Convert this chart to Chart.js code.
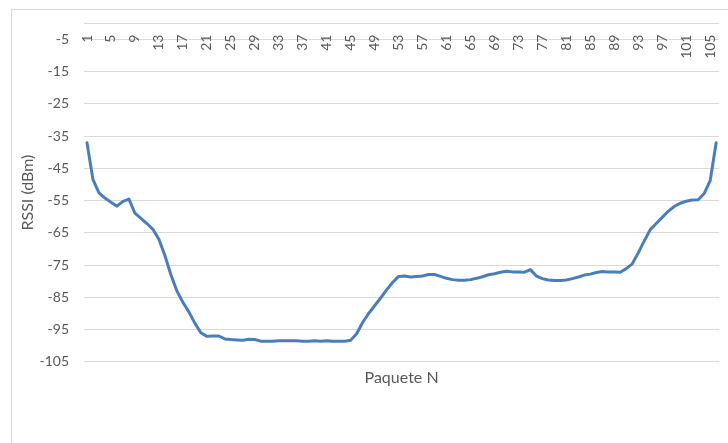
<!DOCTYPE html>
<html>
<head>
<meta charset="utf-8">
<script src="https://cdn.jsdelivr.net/npm/chart.js@4/dist/chart.umd.min.js"></script>
<style>
  html, body { margin: 0; padding: 0; background: #ffffff; }
  #wrap { position: relative; width: 728px; height: 443px; overflow: hidden; }
  #frame { position: absolute; left: 11px; top: 9px; width: 760px; height: 500px; border: 1px solid #d9d9d9; box-sizing: border-box; }
  canvas { position: absolute; left: 0; top: 0; }
</style>
</head>
<body>
<div id="wrap">
  <div id="frame"></div>
  <canvas id="chart" width="728" height="443"></canvas>
</div>
<script>
// Packet numbers 1..106
const packets = [
  '1','2','3','4','5','6','7','8','9','10','11','12','13','14','15','16','17','18','19','20',
  '21','22','23','24','25','26','27','28','29','30','31','32','33','34','35','36','37','38','39','40',
  '41','42','43','44','45','46','47','48','49','50','51','52','53','54','55','56','57','58','59','60',
  '61','62','63','64','65','66','67','68','69','70','71','72','73','74','75','76','77','78','79','80',
  '81','82','83','84','85','86','87','88','89','90','91','92','93','94','95','96','97','98','99','100',
  '101','102','103','104','105','106'
];

// Received signal strength per packet (dBm)
const rssi = [
  -37, -48.5, -52.6, -54.2, -55.5, -56.7, -55.2, -54.5, -58.9, -60.5,
  -62.1, -63.9, -67, -72, -78, -83, -86.5, -89.5, -93, -96,
  -97.1, -97, -97, -97.9, -98.1, -98.2, -98.3, -98.0, -98.1, -98.6,
  -98.6, -98.6, -98.5, -98.5, -98.5, -98.5, -98.6, -98.6, -98.5, -98.6,
  -98.5, -98.6, -98.6, -98.6, -98.3, -96.3, -92.8, -90, -87.6, -85.2,
  -82.7, -80.4, -78.5, -78.4, -78.7, -78.5, -78.4, -77.9, -77.9, -78.5,
  -79.1, -79.5, -79.7, -79.7, -79.5, -79.1, -78.6, -78, -77.7, -77.2,
  -76.9, -77.1, -77.1, -77.2, -76.4, -78.4, -79.2, -79.6, -79.8, -79.8,
  -79.6, -79.2, -78.7, -78.1, -77.8, -77.3, -77, -77.1, -77.1, -77.2,
  -76.1, -74.6, -71.2, -67.5, -64, -62.1, -60.2, -58.3, -56.8, -55.8,
  -55.2, -54.8, -54.7, -52.8, -48.8, -37
];

// Value axis ticks (labelled) and upper bound
const yTicks = [-105, -95, -85, -75, -65, -55, -45, -35, -25, -15, -5];
const yMax = 0;

const textColor = '#595959';
const gridColor = '#d9d9d9';

new Chart(document.getElementById('chart'), {
  type: 'line',
  data: {
    labels: packets,
    datasets: [{
      label: 'RSSI',
      data: rssi,
      borderColor: '#4a7ebb',
      borderWidth: 3,
      pointRadius: 0,
      tension: 0,
      borderJoinStyle: 'round',
      borderCapStyle: 'round',
      fill: false
    }]
  },
  options: {
    responsive: false,
    animation: false,
    layout: { padding: { left: 0, right: 4, top: 20, bottom: 0 } },
    plugins: { legend: { display: false }, tooltip: { enabled: false } },
    scales: {
      x: {
        type: 'category',
        offset: true,
        position: { y: -5 },
        border: { display: false },
        grid: { display: false, drawTicks: false },
        ticks: {
          autoSkip: false,
          minRotation: 90,
          maxRotation: 90,
          padding: -5,
          color: textColor,
          font: { family: 'Lato', size: 14 },
          callback: function (value, index) {
            return index % 4 === 0 ? packets[index] : '';
          }
        }
      },
      xTitle: {
        type: 'category',
        position: 'bottom',
        labels: packets,
        border: { display: false },
        grid: { display: false, drawTicks: false },
        ticks: { display: false },
        title: {
          display: true,
          text: 'Paquete N',
          color: textColor,
          font: { family: 'Lato', size: 16 },
          padding: { top: 6, bottom: 56 }
        }
      },
      y: {
        min: -105,
        max: yMax,
        border: { display: false },
        grid: { color: gridColor, lineWidth: 1, drawTicks: false },
        afterBuildTicks: function (scale) {
          scale.ticks = yTicks.concat([yMax]).map(v => ({ value: v }));
        },
        afterFit: function (scale) { scale.width = 84; },
        ticks: {
          padding: 15,
          color: textColor,
          font: { family: 'Lato', size: 14 },
          callback: function (value) {
            return yTicks.includes(value) ? String(value) : '';
          }
        },
        title: {
          display: true,
          text: 'RSSI (dBm)',
          color: textColor,
          font: { family: 'Lato', size: 16 },
          padding: { top: 18, bottom: 0 }
        }
      }
    }
  }
});
</script>
</body>
</html>
